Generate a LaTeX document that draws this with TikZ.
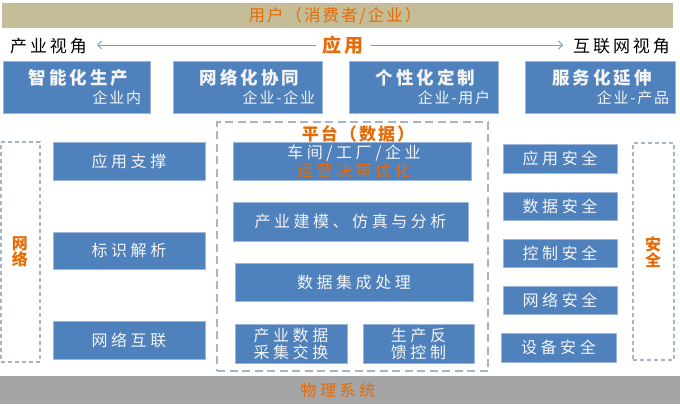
\documentclass[tikz,border=0pt]{standalone}
\usepackage{fontspec}
\setmainfont{Noto Sans CJK SC}
\newfontfamily\cjk{Noto Sans CJK SC}
\newfontfamily\cjkwide[LetterSpace=22]{Noto Sans CJK SC}
\newfontfamily\cjkmid[LetterSpace=12]{Noto Sans CJK SC}
\newfontfamily\cjkview[LetterSpace=17]{Noto Sans CJK SC}
\usetikzlibrary{arrows.meta}
\definecolor{tanbar}{HTML}{C4BD97}
\definecolor{orng}{HTML}{E46C0A}
\definecolor{bluefill}{HTML}{4F81BD}
\definecolor{blueedge}{HTML}{9DB5D8}
\definecolor{dashcol}{HTML}{A9B5C6}
\definecolor{graybar}{HTML}{A5A5A5}
\definecolor{arrcol}{HTML}{7A96CC}
\definecolor{boxtext}{HTML}{F4F4F4}
\tikzset{
  bluebox/.style={draw=blueedge, line width=0.7pt, fill=bluefill, text=boxtext, inner sep=0pt, align=center, font=\cjkwide\fontsize{16}{19}\selectfont},
  titletext/.style={text=boxtext, inner sep=0pt, font=\cjkview\fontsize{17.5}{20}\selectfont\bfseries},
  subtext/.style={text=boxtext, inner sep=0pt, font=\cjkmid\fontsize{15}{17}\selectfont},
  orangetext/.style={text=orng, inner sep=0pt, font=\fontsize{17}{20}\selectfont\bfseries},
  viewtext/.style={text=black, inner sep=0pt, font=\cjkview\fontsize{17}{19}\selectfont},
  sidedash/.style={draw=dashcol, line width=1.3pt, dash pattern=on 4pt off 3pt},
  platdash/.style={draw=dashcol, line width=2.4pt, dash pattern=on 8pt off 4.5pt},
  viewarrow/.style={draw=arrcol, line width=0.9pt, -{Straight Barb[length=4pt,width=8pt]}}
}
\begin{document}
\begin{tikzpicture}[x=1pt,y=-1pt]
\useasboundingbox (0,0) rectangle (680,408);
% top bar
\node[fill=tanbar, minimum width=671pt, minimum height=25pt, inner sep=0pt] (users) at (337.5,15.5) {};
\node[orangetext, font=\cjkmid\fontsize{16.5}{18}\selectfont] (userslbl) at (335,15.5) {用户（消费者/企业）};
% view line
\node[viewtext, anchor=west] (leftview) at (10,46) {产业视角};
\node[viewtext, anchor=east] (rightview) at (670,46) {互联网视角};
\node[orangetext, font=\cjkmid\fontsize{19}{21}\selectfont\bfseries] (app) at (343,45) {应用};
\draw[viewarrow, shorten <=7pt, shorten >=10pt] (app.west) -- (leftview.east |- app.west);
\draw[viewarrow, shorten <=8pt, shorten >=10pt] (app.east) -- (rightview.west |- app.east);
% application boxes
\node[bluebox, minimum width=147pt, minimum height=52pt] (b1) at (76.5,87) {};
\node[bluebox, minimum width=149pt, minimum height=52pt] (b2) at (247.5,87) {};
\node[bluebox, minimum width=149pt, minimum height=52pt] (b3) at (423.5,87) {};
\node[bluebox, minimum width=150pt, minimum height=52pt] (b4) at (600,87) {};
\node[titletext] (t1) at ([xshift=2pt,yshift=9pt]b1.center) {智能化生产};
\node[titletext] (t2) at ([xshift=2pt,yshift=9pt]b2.center) {网络化协同};
\node[titletext] (t3) at ([xshift=2pt,yshift=9pt]b3.center) {个性化定制};
\node[titletext] (t4) at ([xshift=2pt,yshift=9pt]b4.center) {服务化延伸};
\node[subtext, anchor=east] (s1) at ([xshift=-9pt,yshift=-11pt]b1.east) {企业内};
\node[subtext, anchor=east] (s2) at ([xshift=-7pt,yshift=-11pt]b2.east) {企业-企业};
\node[subtext, anchor=east] (s3) at ([xshift=-8pt,yshift=-11pt]b3.east) {企业-用户};
\node[subtext, anchor=east] (s4) at ([xshift=-6pt,yshift=-11pt]b4.east) {企业-产品};
% network column
\node[sidedash, minimum width=39pt, minimum height=220pt, inner sep=0pt] (netbox) at (20.5,252) {};
\node[orangetext, align=center, font=\fontsize{16}{16}\selectfont\bfseries] (netlbl) at (20,252) {网\\络};
\node[bluebox, minimum width=152pt, minimum height=38pt] (n1) at (129,161) {应用支撑};
\node[bluebox, minimum width=152pt, minimum height=37pt] (n2) at (129,250.5) {标识解析};
\node[bluebox, minimum width=152pt, minimum height=38pt] (n3) at (129,340) {网络互联};
% platform
\node[platdash, minimum width=271pt, minimum height=249pt, inner sep=0pt] (plat) at (352.5,246.5) {};
\node[orangetext, font=\cjkmid\fontsize{17}{20}\selectfont\bfseries] (platlbl) at (358,134) {平台（数据）};
\node[bluebox, minimum width=238pt, minimum height=38pt] (p1) at (352,161) {};
\node[text=boxtext, inner sep=0pt, font=\cjkwide\fontsize{16}{18}\selectfont] (p1a) at (354,153) {车间/工厂/企业};
\node[text=orng, inner sep=0pt, font=\cjkwide\fontsize{16}{18}\selectfont] (p1b) at (354,170) {运营决策优化};
\node[bluebox, minimum width=235pt, minimum height=39pt] (p2) at (350.5,221.5) {产业建模、仿真与分析};
\node[bluebox, minimum width=238pt, minimum height=38pt] (p3) at (354,282) {数据集成处理};
\node[bluebox, minimum width=112pt, minimum height=39pt, font=\cjkwide\fontsize{16}{17}\selectfont] (p4) at (291,343.5) {产业数据\\采集交换};
\node[bluebox, minimum width=111pt, minimum height=39pt, font=\cjkwide\fontsize{16}{17}\selectfont] (p5) at (418.5,343.5) {生产反\\馈控制};
% security column
\node[bluebox, minimum width=114pt, minimum height=29pt] (r1) at (560,158.5) {应用安全};
\node[bluebox, minimum width=114pt, minimum height=28pt] (r2) at (560,206) {数据安全};
\node[bluebox, minimum width=114pt, minimum height=28pt] (r3) at (560,253) {控制安全};
\node[bluebox, minimum width=114pt, minimum height=28pt] (r4) at (560,300) {网络安全};
\node[bluebox, minimum width=115pt, minimum height=29pt] (r5) at (558.5,347.5) {设备安全};
\node[sidedash, minimum width=41pt, minimum height=217pt, inner sep=0pt] (secbox) at (653.5,251.5) {};
\node[orangetext, align=center, font=\fontsize{16}{16}\selectfont\bfseries] (seclbl) at (653,252) {安\\全};
% bottom bar
\node[fill=graybar, minimum width=680pt, minimum height=28pt, inner sep=0pt] (phys) at (340,390) {};
\node[orangetext, font=\cjkwide\fontsize{16}{18}\selectfont] (physlbl) at (338,390) {物理系统};
\end{tikzpicture}
\end{document}
